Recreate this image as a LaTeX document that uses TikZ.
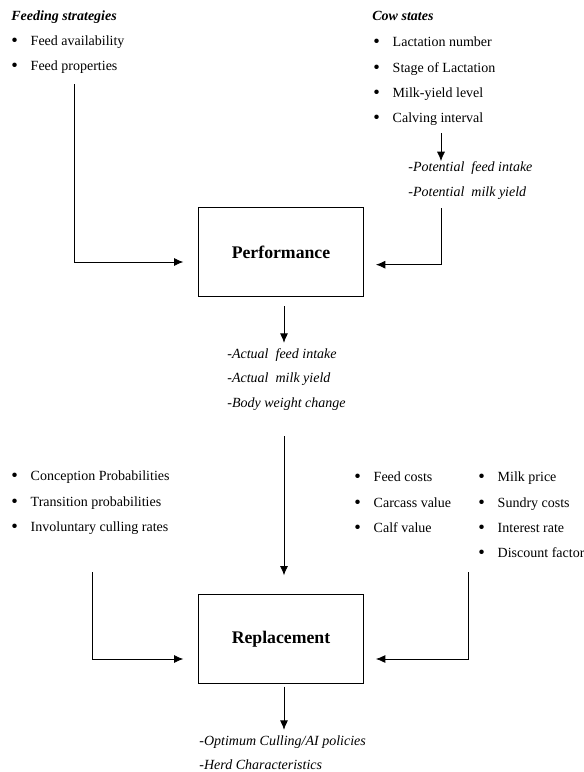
\documentclass[tikz,border=0pt]{standalone}
\usepackage{fontspec}
\setmainfont{Liberation Serif}
\usetikzlibrary{arrows.meta}
\newcommand{\bul}[1]{\makebox[14.5pt][l]{\raisebox{-0.6pt}{\fontsize{14}{14}\selectfont\textbullet}}#1}
\tikzset{
    txt/.style={anchor=west, inner sep=0pt, text height=7.6pt, text depth=2.2pt, font=\fontsize{10.5}{12}\selectfont},
    head/.style={txt, font=\fontsize{10.5}{12}\selectfont\bfseries\itshape},
    res/.style={txt, font=\fontsize{10.5}{12}\selectfont\itshape},
    box/.style={draw, line width=0.5pt, minimum width=124pt, minimum height=67pt, font=\fontsize{13.3}{15}\selectfont\bfseries},
    arr/.style={-{Latex[length=7pt,width=6pt]}},
}
\begin{document}
\begin{tikzpicture}[x=0.75pt, y=-0.75pt, line width=0.6pt]
    \useasboundingbox (0,0) rectangle (584,772);
    % inputs to performance
    \node[head] (feedhead) at (11,17) {Feeding strategies};
    \node[txt] (feed1) at (11,42) {\bul{Feed availability}};
    \node[txt] (feed2) at (11,67) {\bul{Feed properties}};
    \node[head] (cowhead) at (372,17) {Cow states};
    \node[txt] (cow1) at (373,43) {\bul{Lactation number}};
    \node[txt] (cow2) at (373,69) {\bul{Stage of Lactation}};
    \node[txt] (cow3) at (373,94) {\bul{Milk-yield level}};
    \node[txt] (cow4) at (373,119) {\bul{Calving interval}};
    \node[res] (pot1) at (408,168) {-Potential\ \ feed intake};
    \node[res] (pot2) at (408,193) {-Potential\ \ milk yield};
    \node[box] (perf) at (281,252) {Performance};
    \node[res] (act1) at (227,355) {-Actual\ \ feed intake};
    \node[res] (act2) at (227,379) {-Actual\ \ milk yield};
    \node[res] (act3) at (227,404) {-Body weight change};
    % inputs to replacement
    \node[txt] (prob1) at (11,477) {\bul{Conception Probabilities}};
    \node[txt] (prob2) at (11,503) {\bul{Transition probabilities}};
    \node[txt] (prob3) at (11,528) {\bul{Involuntary culling rates}};
    \node[txt] (econ1) at (354,478) {\bul{Feed costs}};
    \node[txt] (econ2) at (354,504) {\bul{Carcass value}};
    \node[txt] (econ3) at (354,529) {\bul{Calf value}};
    \node[txt] (econ4) at (478,478) {\bul{Milk price}};
    \node[txt] (econ5) at (478,504) {\bul{Sundry costs}};
    \node[txt] (econ6) at (478,529) {\bul{Interest rate}};
    \node[txt] (econ7) at (478,554) {\bul{Discount factor}};
    \node[box] (repl) at (281,639) {Replacement};
    \node[res] (opt1) at (199,742) {-Optimum Culling/AI policies};
    \node[res] (opt2) at (199,766) {-Herd Characteristics};

    \coordinate (feedend) at (74,84);
    \coordinate (cowend) at (441,133);
    \coordinate (potend) at (441,208);
    \coordinate (actend) at (284,436);
    \coordinate (probend) at (92,572);
    \coordinate (econend) at (468,572);

    \draw[arr, shorten >=11pt] (feedend) |- ([yshift=-7.5pt]perf.west);
    \draw[arr] (cowend) -- (pot1.north -| cowend);
    \draw[arr, shorten >=9pt] (potend) |- ([yshift=-9.5pt]perf.east);
    \draw[arr, shorten <=7pt, shorten >=4pt] (actend |- perf.south) -- (act1.north -| actend);
    \draw[arr, shorten >=14pt] (actend) -- (repl.north -| actend);
    \draw[arr, shorten >=11pt] (probend) |- ([yshift=-15pt]repl.west);
    \draw[arr, shorten >=9pt] (econend) |- ([yshift=-15pt]repl.east);
    \draw[arr, shorten <=2pt, shorten >=4pt] (actend |- repl.south) -- (opt1.north -| actend);
\end{tikzpicture}
\end{document}
